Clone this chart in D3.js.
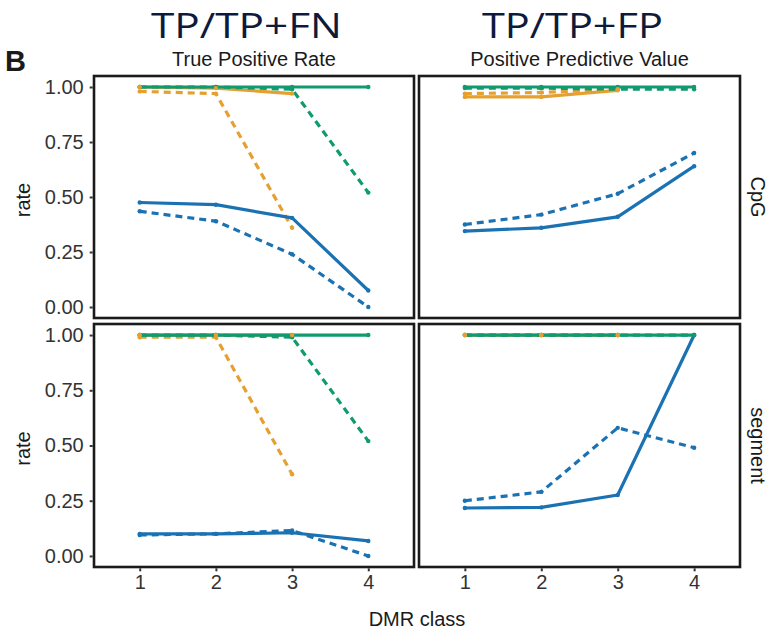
<!DOCTYPE html>
<html>
<head>
<meta charset="utf-8">
<script src="https://cdn.jsdelivr.net/npm/d3@7"></script>
<style>
  html, body { margin: 0; padding: 0; background: #fff; }
  svg { display: block; }
  text { font-family: "Liberation Sans", Arial, sans-serif; }
</style>
</head>
<body>
<svg id="chart" width="768" height="634"></svg>
<script>
// DMR classes on the x axis and tick values on the y axis
const classes = [1, 2, 3, 4];
const yTicks = [0, 0.25, 0.5, 0.75, 1];
const yTickLabels = ["0.00", "0.25", "0.50", "0.75", "1.00"];

const columnTitles = ["True Positive Rate", "Positive Predictive Value"];
const columnFormulas = ["TP/TP+FN", "TP/TP+FP"];
const rowLabels = ["CpG", "segment"];

// CpG level, true positive rate
const cpgTprGreen = [1.00, 1.00, 1.00, 1.00];
const cpgTprGreenDash = [1.00, 1.00, 0.99, 0.52];
const cpgTprOrange = [1.00, 0.995, 0.97, null];
const cpgTprOrangeDash = [0.98, 0.97, 0.36, null];
const cpgTprBlue = [0.475, 0.465, 0.405, 0.075];
const cpgTprBlueDash = [0.435, 0.39, 0.24, 0.00];

// CpG level, positive predictive value
const cpgPpvGreen = [1.00, 1.00, 1.00, 1.00];
const cpgPpvGreenDash = [0.995, 0.995, 0.99, 0.99];
const cpgPpvOrange = [0.955, 0.955, 0.985, null];
const cpgPpvOrangeDash = [0.97, 0.975, 0.99, null];
const cpgPpvBlue = [0.345, 0.36, 0.41, 0.64];
const cpgPpvBlueDash = [0.375, 0.42, 0.515, 0.70];

// segment level, true positive rate
const segTprGreen = [1.00, 1.00, 1.00, 1.00];
const segTprGreenDash = [1.00, 1.00, 0.99, 0.52];
const segTprOrange = [1.00, 1.00, 1.00, null];
const segTprOrangeDash = [0.99, 0.99, 0.37, null];
const segTprBlue = [0.10, 0.10, 0.105, 0.068];
const segTprBlueDash = [0.095, 0.10, 0.115, 0.00];

// segment level, positive predictive value
const segPpvGreen = [1.00, 1.00, 1.00, 1.00];
const segPpvGreenDash = [1.00, 1.00, 1.00, 1.00];
const segPpvOrange = [1.00, 1.00, 1.00, null];
const segPpvOrangeDash = [1.00, 1.00, 1.00, null];
const segPpvBlue = [0.217, 0.22, 0.276, 1.00];
const segPpvBlueDash = [0.25, 0.29, 0.58, 0.49];

const colors = { green: "#109a6f", orange: "#e6a030", blue: "#1a72b3" };

// one entry per facet: row, column and its series in drawing order
const panels = [
  { row: 0, col: 0, series: [
    ["orange", true, cpgTprOrangeDash], ["orange", false, cpgTprOrange],
    ["blue", true, cpgTprBlueDash], ["blue", false, cpgTprBlue],
    ["green", true, cpgTprGreenDash], ["green", false, cpgTprGreen]] },
  { row: 0, col: 1, series: [
    ["orange", true, cpgPpvOrangeDash], ["orange", false, cpgPpvOrange],
    ["blue", true, cpgPpvBlueDash], ["blue", false, cpgPpvBlue],
    ["green", true, cpgPpvGreenDash], ["green", false, cpgPpvGreen]] },
  { row: 1, col: 0, series: [
    ["orange", true, segTprOrangeDash], ["orange", false, segTprOrange],
    ["blue", true, segTprBlueDash], ["blue", false, segTprBlue],
    ["green", true, segTprGreenDash], ["green", false, segTprGreen]] },
  { row: 1, col: 1, series: [
    ["orange", true, segPpvOrangeDash], ["orange", false, segPpvOrange],
    ["blue", true, segPpvBlueDash], ["blue", false, segPpvBlue],
    ["green", true, segPpvGreenDash], ["green", false, segPpvGreen]] }
];

// points are layered above all lines in this order
const pointOrder = ["blue", "green", "orange"];

const svg = d3.select("#chart");

// facet geometry
const colX = [[94, 414], [419, 740]];
const rowY = [[76, 318], [324, 567]];

const tickColor = "#333";
const textColor = "#1a1a1a";
const labelFont = "20px";

function xScale(col) {
  return d3.scaleLinear().domain([0.4, 4.6]).range(colX[col]);
}
function yScale(row) {
  return d3.scaleLinear().domain([-0.05, 1.05]).range([rowY[row][1], rowY[row][0]]);
}

panels.forEach(p => {
  const x = xScale(p.col), y = yScale(p.row);
  const g = svg.append("g");

  g.append("rect")
    .attr("x", colX[p.col][0]).attr("y", rowY[p.row][0])
    .attr("width", colX[p.col][1] - colX[p.col][0])
    .attr("height", rowY[p.row][1] - rowY[p.row][0])
    .attr("fill", "#fff");

  const line = d3.line()
    .defined(d => d.v != null)
    .x(d => x(d.c)).y(d => y(d.v));

  p.series.forEach(([color, dashed, values]) => {
    const pts = classes.map((c, i) => ({ c, v: values[i] }));
    g.append("path")
      .datum(pts)
      .attr("d", line)
      .attr("fill", "none")
      .attr("stroke", colors[color])
      .attr("stroke-width", 3.2)
      .attr("stroke-dasharray", dashed ? "7,5" : null)
      .attr("stroke-linejoin", "round");
  });

  pointOrder.forEach(color => {
    p.series.filter(s => s[0] === color).forEach(([, , values]) => {
      const pts = classes.map((c, i) => ({ c, v: values[i] })).filter(d => d.v != null);
      g.selectAll(null)
        .data(pts)
        .join("circle")
        .attr("cx", d => x(d.c)).attr("cy", d => y(d.v))
        .attr("r", 2.2)
        .attr("fill", colors[color]);
    });
  });

  g.append("rect")
    .attr("x", colX[p.col][0]).attr("y", rowY[p.row][0])
    .attr("width", colX[p.col][1] - colX[p.col][0])
    .attr("height", rowY[p.row][1] - rowY[p.row][0])
    .attr("fill", "none")
    .attr("stroke", "#1a1a1a")
    .attr("stroke-width", 2.6);

  // y axis on the left column
  if (p.col === 0) {
    const ax = svg.append("g")
      .attr("transform", `translate(${colX[0][0] - 1.3},0)`)
      .call(d3.axisLeft(y).tickValues(yTicks)
        .tickFormat((d, i) => yTickLabels[i]).tickSize(3).tickPadding(6));
    ax.select(".domain").remove();
    ax.selectAll(".tick line").attr("stroke", "#333").attr("stroke-width", 2);
    ax.selectAll("text").attr("fill", tickColor)
      .style("font-size", labelFont).style("font-family", "Liberation Sans, Arial, sans-serif");
  }
  // x axis under the bottom row
  if (p.row === 1) {
    const ax = svg.append("g")
      .attr("transform", `translate(0,${rowY[1][1] + 1.3})`)
      .call(d3.axisBottom(x).tickValues(classes).tickFormat(d3.format("d"))
        .tickSize(3).tickPadding(4));
    ax.select(".domain").remove();
    ax.selectAll(".tick line").attr("stroke", "#333").attr("stroke-width", 2);
    ax.selectAll("text").attr("fill", tickColor)
      .style("font-size", labelFont).style("font-family", "Liberation Sans, Arial, sans-serif");
  }
});

// column headings
columnTitles.forEach((t, i) => {
  const cx = (colX[i][0] + colX[i][1]) / 2;
  svg.append("text")
    .attr("x", cx).attr("y", 66)
    .attr("text-anchor", "middle")
    .attr("fill", textColor)
    .style("font-size", labelFont)
    .text(t);
});

// large formula headings
const formulaX = [151, 482];
const formulaW = [191, 181];
columnFormulas.forEach((t, i) => {
  svg.append("text")
    .attr("x", formulaX[i]).attr("y", 38)
    .attr("fill", "#0d1a3c")
    .attr("textLength", formulaW[i])
    .attr("lengthAdjust", "spacingAndGlyphs")
    .style("font-family", "'Open Sans', 'Noto Sans', sans-serif")
    .style("font-size", "34px")
    .text(t);
});

// row strip labels on the right
rowLabels.forEach((t, i) => {
  const cy = (rowY[i][0] + rowY[i][1]) / 2;
  svg.append("text")
    .attr("transform", `translate(751,${cy}) rotate(90)`)
    .attr("text-anchor", "middle")
    .attr("fill", textColor)
    .style("font-size", labelFont)
    .text(t);
});

// y axis titles
rowY.forEach(r => {
  svg.append("text")
    .attr("transform", `translate(30,${(r[0] + r[1]) / 2 + 3}) rotate(-90)`)
    .attr("text-anchor", "middle")
    .attr("fill", textColor)
    .style("font-size", labelFont)
    .text("rate");
});

// x axis title
svg.append("text")
  .attr("x", (colX[0][0] + colX[1][1]) / 2).attr("y", 626)
  .attr("text-anchor", "middle")
  .attr("fill", textColor)
  .style("font-size", labelFont)
  .text("DMR class");

// panel tag
svg.append("text")
  .attr("x", 5).attr("y", 71)
  .attr("fill", "#1a1a1a")
  .style("font-size", "29px")
  .style("font-weight", "bold")
  .text("B");
</script>
</body>
</html>
